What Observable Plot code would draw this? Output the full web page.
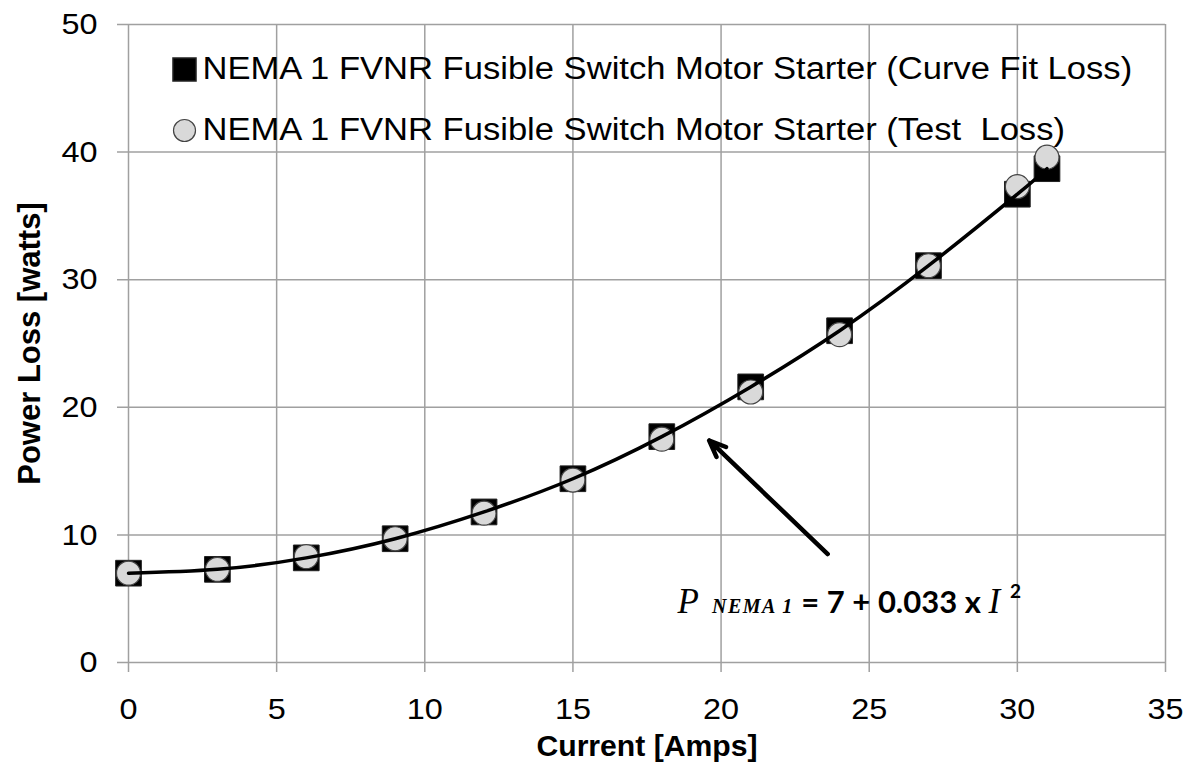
<!DOCTYPE html>
<html>
<head>
<meta charset="utf-8">
<script src="https://cdn.jsdelivr.net/npm/d3@7"></script>
<script src="https://cdn.jsdelivr.net/npm/@observablehq/plot@0.6"></script>
<style>
  html, body { margin: 0; padding: 0; background: #fff; }
  #chart svg { display: block; }
</style>
</head>
<body>
<div id="chart"></div>
<script>
// ---- data ----
const current  = [0, 3, 6, 9, 12, 15, 18, 21, 24, 27, 30, 31];
const fitLoss  = [7.0, 7.3, 8.2, 9.7, 11.8, 14.4, 17.7, 21.6, 26.0, 31.1, 36.7, 38.7];
const testLoss = [7.0, 7.3, 8.3, 9.7, 11.7, 14.3, 17.5, 21.2, 25.7, 31.1, 37.3, 39.6];
const xTicks = [0, 5, 10, 15, 20, 25, 30, 35];
const yTicks = [0, 10, 20, 30, 40, 50];
const seriesNames = [
  "NEMA 1 FVNR Fusible Switch Motor Starter (Curve Fit Loss)",
  "NEMA 1 FVNR Fusible Switch Motor Starter (Test  Loss)"
];
const xTitle = "Current [Amps]";
const yTitle = "Power Loss [watts]";
// annotation arrow (data space): from label toward curve
const arrowFrom = {x: 23.6, y: 8.5};
const arrowTo   = {x: 19.6, y: 17.4};
const equationAt = {x: 18.55, y: 3.85};

const rows = current.map((c, i) => ({current: c, fit: fitLoss[i], test: testLoss[i]}));

const plot = Plot.plot({
  width: 1192,
  height: 770,
  marginLeft: 128,
  marginRight: 27,
  marginTop: 24,
  marginBottom: 108,
  style: {fontFamily: "'Liberation Sans', Arial, sans-serif", fontSize: "30px", color: "#000", background: "#fff"},
  x: {domain: [0, 35], ticks: xTicks, tickSize: 0, tickPadding: 35, label: null},
  y: {domain: [0, 50], ticks: yTicks, tickSize: 0, tickPadding: 31, label: null},
  marks: [
    Plot.ruleX(xTicks, {x: d => d, stroke: "#a0a0a0", strokeWidth: 1.5, insetBottom: -10}),
    Plot.ruleY(yTicks, {y: d => d, stroke: "#a0a0a0", strokeWidth: 1.5, insetLeft: -11}),
    Plot.dot(rows, {x: "current", y: "fit", symbol: "square", r: 14.5, fill: "#000", stroke: "#222", strokeWidth: 1}),
    Plot.dot(rows, {x: "current", y: "test", symbol: "circle", r: 12, fill: "#d9d9d9", stroke: "#444", strokeWidth: 1.2}),
    Plot.line(rows, {x: "current", y: "fit", curve: "natural", stroke: "#000", strokeWidth: 3.5}),
    Plot.arrow([{x1: arrowFrom.x, y1: arrowFrom.y, x2: arrowTo.x, y2: arrowTo.y}],
      {x1: "x1", y1: "y1", x2: "x2", y2: "y2", stroke: "#000", strokeWidth: 4.5, headLength: 6, headAngle: 45}),
    // legend
    Plot.dot([0], {frameAnchor: "top-left", dx: 56, dy: 45, symbol: "square", r: 13, fill: "#000", stroke: "#222"}),
    Plot.dot([0], {frameAnchor: "top-left", dx: 56, dy: 106, symbol: "circle", r: 11, fill: "#d9d9d9", stroke: "#444", strokeWidth: 1.2}),
    Plot.text([seriesNames[0]], {frameAnchor: "top-left", dx: 74, dy: 45, text: d => d, textAnchor: "start", lineAnchor: "middle", fontSize: 31, fill: "#000", className: "legend-text"}),
    Plot.text([seriesNames[1]], {frameAnchor: "top-left", dx: 74, dy: 106, text: d => d, textAnchor: "start", lineAnchor: "middle", fontSize: 31, fill: "#000", className: "legend-text"}),
    // axis titles
    Plot.text([xTitle], {frameAnchor: "bottom", dy: 84, text: d => d, fontWeight: "bold", fontSize: 29, lineAnchor: "middle", textAnchor: "middle", className: "x-title"}),
    Plot.text([yTitle], {frameAnchor: "left", dx: -98, text: d => d, rotate: -90, fontWeight: "bold", fontSize: 31, lineAnchor: "middle", textAnchor: "middle"})
  ]
});

document.getElementById("chart").appendChild(plot);

const svg = d3.select(plot);

// the reference's sans text is a little wider than Arial: stretch horizontally
function stretch(sel, k) {
  sel.each(function() {
    const len = this.getComputedTextLength();
    if (len > 0) d3.select(this).attr("textLength", len * k).attr("lengthAdjust", "spacingAndGlyphs");
  });
}
stretch(svg.selectAll("g[aria-label='x-axis tick label'] text, g[aria-label='y-axis tick label'] text"), 1.08);
stretch(svg.selectAll(".legend-text text"), 1.115);
stretch(svg.selectAll(".x-title text"), 1.04);

// equation annotation positioned with the plot's own scales
const sx = plot.scale("x"), sy = plot.scale("y");
const eq = svg.append("text")
  .attr("x", sx.apply(equationAt.x))
  .attr("y", sy.apply(equationAt.y))
  .attr("text-anchor", "start")
  .attr("fill", "#000");
const serif = "'Liberation Serif', 'DejaVu Serif', serif";
const bold = "Lato, 'Open Sans', sans-serif";
eq.append("tspan").attr("font-family", serif).attr("font-style", "italic").attr("font-size", 35).text("P");
eq.append("tspan").attr("dx", 13).attr("font-family", serif).attr("font-style", "italic").attr("font-weight", "bold").attr("font-size", 20).attr("letter-spacing", 1.5).text("NEMA 1");
eq.append("tspan").attr("font-family", bold).attr("font-weight", "bold").attr("font-size", 31).attr("xml:space", "preserve").text(" = 7 + 0.033 x ");
eq.append("tspan").attr("font-family", serif).attr("font-style", "italic").attr("font-size", 35).text("I");
eq.append("tspan").attr("dx", 10).attr("dy", -15).attr("font-family", bold).attr("font-weight", "bold").attr("font-size", 19).text("2");
</script>
</body>
</html>
